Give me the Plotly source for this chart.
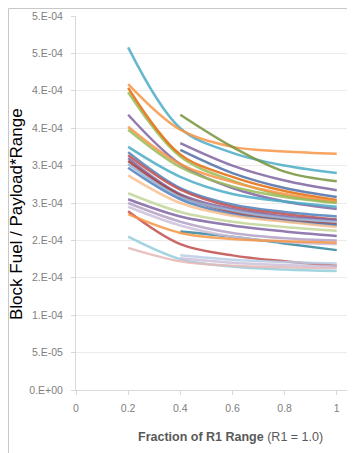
import plotly.graph_objects as go

# x positions (fraction of R1 range)
x_vals = [0.2, 0.4, 0.6, 0.8, 1.0]

# y values per series (block fuel / payload*range); None = no data
series_values = [
    [4.58e-4, 3.50e-4, 3.17e-4, 3.00e-4, 2.90e-4],
    [4.09e-4, 3.48e-4, 3.25e-4, 3.19e-4, 3.16e-4],
    [3.98e-4, 3.12e-4, 2.80e-4, 2.60e-4, 2.51e-4],
    [4.04e-4, 3.15e-4, 2.85e-4, 2.66e-4, 2.54e-4],
    [3.68e-4, 3.02e-4, 2.70e-4, 2.52e-4, 2.42e-4],
    [None, 3.68e-4, 3.25e-4, 2.92e-4, 2.79e-4],
    [None, 3.30e-4, 3.00e-4, 2.80e-4, 2.67e-4],
    [None, 3.21e-4, 2.90e-4, 2.70e-4, 2.58e-4],
    [None, 2.12e-4, 2.05e-4, 1.96e-4, 1.87e-4],
    [3.52e-4, 3.02e-4, 2.78e-4, 2.62e-4, 2.52e-4],
    [3.48e-4, 2.98e-4, 2.72e-4, 2.58e-4, 2.50e-4],
    [3.25e-4, 2.85e-4, 2.62e-4, 2.52e-4, 2.45e-4],
    [3.18e-4, 2.70e-4, 2.48e-4, 2.38e-4, 2.32e-4],
    [3.14e-4, 2.68e-4, 2.45e-4, 2.35e-4, 2.28e-4],
    [3.10e-4, 2.62e-4, 2.42e-4, 2.32e-4, 2.27e-4],
    [3.06e-4, 2.60e-4, 2.38e-4, 2.28e-4, 2.22e-4],
    [3.02e-4, 2.58e-4, 2.40e-4, 2.30e-4, 2.25e-4],
    [2.97e-4, 2.55e-4, 2.35e-4, 2.26e-4, 2.20e-4],
    [2.87e-4, 2.50e-4, 2.33e-4, 2.25e-4, 2.18e-4],
    [2.63e-4, 2.38e-4, 2.25e-4, 2.18e-4, 2.13e-4],
    [2.55e-4, 2.32e-4, 2.20e-4, 2.12e-4, 2.06e-4],
    [2.50e-4, 2.25e-4, 2.10e-4, 2.03e-4, 2.00e-4],
    [2.45e-4, 2.20e-4, 2.05e-4, 1.98e-4, 1.95e-4],
    [2.39e-4, 1.95e-4, 1.80e-4, 1.72e-4, 1.66e-4],
    [2.35e-4, 2.10e-4, 2.02e-4, 1.99e-4, 1.97e-4],
    [2.05e-4, 1.75e-4, 1.65e-4, 1.61e-4, 1.59e-4],
    [1.90e-4, 1.72e-4, 1.66e-4, 1.64e-4, 1.63e-4],
    [None, 1.80e-4, 1.74e-4, 1.71e-4, 1.69e-4],
    [None, 1.76e-4, 1.70e-4, 1.67e-4, 1.65e-4],
]

series_colors = [
    "#4BACC6", "#F79646", "#9BBB59", "#E46C0A", "#8064A2",
    "#77933C", "#8064A2", "#4F6FA8", "#31859C", "#F79646",
    "#9BBB59", "#4BACC6", "#4F81BD", "#C0504D", "#8064A2",
    "#A33A37", "#95B3D7", "#4F81BD", "#FAC090", "#C3D69B",
    "#8064A2", "#B3A2C7", "#CCC1DA", "#C0504D", "#F79646",
    "#92CDDC", "#E6B9B8", "#B9CDE5", "#CCC1DA",
]

y_tickvals = [0, 5e-5, 1e-4, 1.5e-4, 2e-4, 2.5e-4, 3e-4, 3.5e-4, 4e-4, 4.5e-4, 5e-4]
y_ticktext = ["0.E+00", "5.E-05", "1.E-04", "2.E-04", "2.E-04", "3.E-04",
              "3.E-04", "4.E-04", "4.E-04", "5.E-04", "5.E-04"]
x_tickvals = [0, 0.2, 0.4, 0.6, 0.8, 1]
x_ticktext = ["0", "0.2", "0.4", "0.6", "0.8", "1"]

fig = go.Figure()
for vals, col in zip(series_values, series_colors):
    fig.add_trace(go.Scatter(
        x=x_vals, y=vals, mode="lines",
        line=dict(color=col, width=2.5, shape="spline", smoothing=1.0),
        opacity=0.85, showlegend=False, hoverinfo="skip",
    ))

tick_font = dict(family="Liberation Sans, Arial, sans-serif", size=10.5, color="#808080")

# page body has an 8px margin, so the figure is sized/offset to compensate
PW, PH = 279, 374
fig.update_layout(
    width=347, height=445,
    margin=dict(l=68, r=0, t=8, b=63),
    paper_bgcolor="white", plot_bgcolor="white",
    xaxis=dict(
        range=[0, 1.07], tickvals=x_tickvals, ticktext=x_ticktext, automargin=False,
        showgrid=False, zeroline=False, showline=True, linecolor="#D9D9D9", linewidth=1,
        ticks="outside", ticklen=4, tickcolor="#D9D9D9",
        tickfont=tick_font, ticklabelstandoff=4,
    ),
    yaxis=dict(
        range=[0, 5e-4], tickvals=y_tickvals, ticktext=y_ticktext, automargin=False,
        showgrid=True, gridcolor="#EBEBEB", gridwidth=1,
        zeroline=False, showline=True, linecolor="#D9D9D9", linewidth=1,
        ticks="outside", ticklen=4, tickcolor="#D9D9D9",
        tickfont=tick_font, ticklabelstandoff=6,
    ),
    shapes=[dict(type="rect", xref="paper", yref="paper",
                 x0=(0.5 - 68) / PW, x1=1.2, y0=-0.3, y1=1 + 7.5 / PH,
                 line=dict(color="#C8C8C8", width=1), fillcolor="rgba(0,0,0,0)", layer="below")],
    annotations=[
        dict(text="Block Fuel / Payload*Range", textangle=-90,
             xref="paper", yref="paper", x=(16 - 76) / PW, y=(390 - 214) / PH,
             showarrow=False, xanchor="center", yanchor="middle",
             font=dict(family="Liberation Sans, Arial, sans-serif", size=17, color="#000000")),
        dict(text="<b>Fraction of R1 Range</b> (R1 = 1.0)",
             xref="paper", yref="paper", x=(230 - 76) / PW, y=(390 - 437) / PH,
             showarrow=False, xanchor="center", yanchor="middle",
             font=dict(family="Liberation Sans, Arial, sans-serif", size=12.5, color="#595959")),
    ],
)

fig.write_html("out.html")
